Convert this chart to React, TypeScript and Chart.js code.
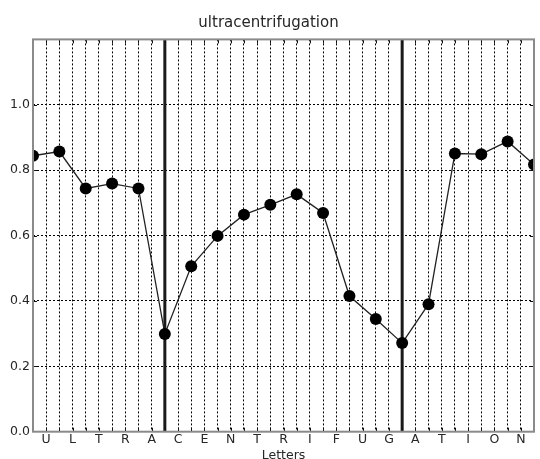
import React, { useEffect, useRef } from "react";
import { Chart, registerables } from "chart.js";

Chart.register(...registerables);

const TITLE = "ultracentrifugation";
const X_LABEL = "Letters";
const LETTERS = ["U", "L", "T", "R", "A", "C", "E", "N", "T", "R", "I", "F", "U", "G", "A", "T", "I", "O", "N"];
const VALUES = [0.844, 0.857, 0.744, 0.759, 0.744, 0.299, 0.506, 0.599, 0.664, 0.694, 0.726, 0.669, 0.415, 0.345, 0.271, 0.39, 0.851, 0.849, 0.888, 0.817];
const BOUNDARIES = [5, 14];
const Y_TICKS = [0, 0.2, 0.4, 0.6, 0.8, 1.0];
const Y_MAX = 1.2;

const FONT = "'DejaVu Sans', 'Liberation Sans', sans-serif";
const TEXT = "#262626";
const FRAME = "#8a8a8a";

const framePlugin = {
  id: "frame",
  afterDraw(chart: any) {
    const { ctx, chartArea } = chart;
    const { left, right, top, bottom } = chartArea;
    const xs = chart.scales.x;
    const ys = chart.scales.y;
    ctx.save();
    ctx.setLineDash([]);
    ctx.strokeStyle = "#111";
    ctx.lineWidth = 1;
    ctx.beginPath();
    xs.ticks.forEach((t: any, i: number) => {
      if (t.value <= 0 || t.value >= LETTERS.length) return;
      const px = Math.round(xs.getPixelForTick(i)) + 0.5;
      ctx.moveTo(px, bottom);
      ctx.lineTo(px, bottom - 4);
      ctx.moveTo(px, top);
      ctx.lineTo(px, top + 4);
    });
    ys.ticks.forEach((t: any, i: number) => {
      if (t.value <= 0) return;
      const py = Math.round(ys.getPixelForTick(i)) + 0.5;
      ctx.moveTo(left, py);
      ctx.lineTo(left + 4, py);
      ctx.moveTo(right, py);
      ctx.lineTo(right - 4, py);
    });
    ctx.stroke();
    ctx.strokeStyle = FRAME;
    ctx.lineWidth = 2;
    ctx.strokeRect(left, top, right - left, bottom - top);
    ctx.restore();
  },
};

export default function App() {
  const ref = useRef<HTMLCanvasElement>(null);

  useEffect(() => {
    if (!ref.current) return;
    const mainData = VALUES.map((v, i) => ({ x: i, y: v }));
    const boundarySets = BOUNDARIES.map((b) => ({
      type: "line" as const,
      data: [
        { x: b, y: 0 },
        { x: b, y: Y_MAX },
      ],
      borderColor: "#1a1a1a",
      borderWidth: 3,
      pointRadius: 0,
      fill: false,
    }));

    const chart = new Chart(ref.current, {
      type: "line",
      data: {
        datasets: [
          {
            data: mainData,
            borderColor: "#222",
            borderWidth: 1.3,
            pointRadius: 6,
            pointBorderWidth: 0,
            pointBackgroundColor: "#000",
            pointHoverRadius: 6,
            fill: false,
            tension: 0,
            clip: 0,
          } as any,
          ...boundarySets,
        ],
      },
      plugins: [framePlugin],
      options: {
        animation: false,
        responsive: false,
        events: [],
        layout: { padding: { left: 0, right: 3, top: 0, bottom: 0 } },
        plugins: {
          legend: { display: false },
          tooltip: { enabled: false },
          title: {
            display: true,
            text: TITLE,
            color: TEXT,
            font: { family: FONT, size: 15, weight: "normal", lineHeight: 1.2 },
            padding: { top: 14, bottom: 7.4 },
          },
        },
        scales: {
          x: {
            type: "linear",
            min: 0,
            max: LETTERS.length,
            afterBuildTicks: (scale: any) => {
              const t: any[] = [];
              for (let i = 0; i <= LETTERS.length * 2; i++) t.push({ value: i / 2 });
              scale.ticks = t;
            },
            afterFit: (scale: any) => {
              scale.height = 27.3;
            },
            ticks: {
              autoSkip: false,
              maxRotation: 0,
              minRotation: 0,
              padding: 1.5,
              color: TEXT,
              font: { family: FONT, size: 12.5, lineHeight: 1 },
              callback: (value: any) => {
                const v = Number(value);
                const f = Math.floor(v);
                if (Math.abs(v - f - 0.5) < 1e-6) return LETTERS[f];
                return "";
              },
            },
            grid: {
              drawTicks: false,
              lineWidth: 1,
              color: (ctx: any) => {
                const v = ctx.tick ? ctx.tick.value : 0;
                if (v <= 0 || v >= LETTERS.length || BOUNDARIES.includes(v)) return "rgba(0,0,0,0)";
                return "#000";
              },
            },
            border: { display: false, dash: [2, 2] },
            title: {
              display: true,
              text: X_LABEL,
              color: TEXT,
              font: { family: FONT, size: 12.5, lineHeight: 0.7 },
              padding: { top: 0, bottom: -1 },
            },
          },
          y: {
            type: "linear",
            min: 0,
            max: Y_MAX,
            afterBuildTicks: (scale: any) => {
              scale.ticks = Y_TICKS.map((v) => ({ value: v }));
            },
            afterFit: (scale: any) => {
              scale.width = 33;
            },
            ticks: {
              padding: 3,
              color: TEXT,
              font: { family: FONT, size: 12.5 },
              callback: (value: any) => Number(value).toFixed(1),
            },
            grid: {
              drawTicks: false,
              lineWidth: 1,
              color: (ctx: any) => {
                const v = ctx.tick ? ctx.tick.value : 0;
                if (v <= 0) return "rgba(0,0,0,0)";
                return "#000";
              },
            },
            border: { display: false, dash: [2, 2] },
          },
        },
      } as any,
    });
    return () => chart.destroy();
  }, []);

  return (
    <div style={{ position: "absolute", left: 0, top: 0, width: 540, height: 459 }}>
      <canvas ref={ref} width={540} height={459} style={{ display: "block", width: 540, height: 459 }} />
    </div>
  );
}
